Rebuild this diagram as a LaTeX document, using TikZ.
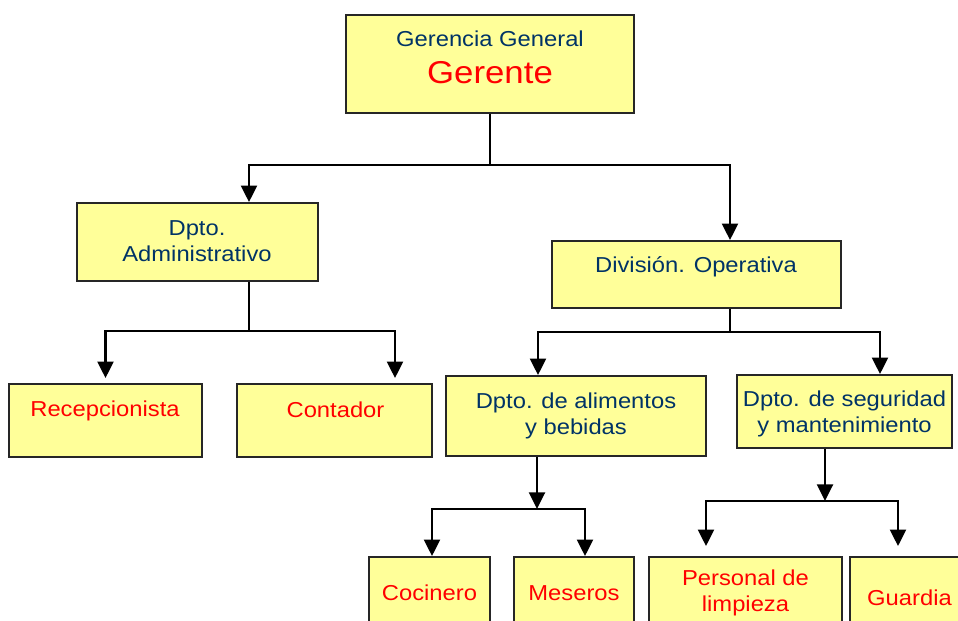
\documentclass[tikz,border=0pt]{standalone}
\usepackage{fontspec}
\setmainfont{Liberation Sans}[FakeStretch=1.1]
\usetikzlibrary{arrows.meta}

\definecolor{boxfill}{HTML}{FFFF99}
\definecolor{navytext}{HTML}{003366}
\definecolor{redtext}{HTML}{FF0000}

\tikzset{
  box/.style={draw=black!85, fill=boxfill, line width=1.1pt, inner sep=0pt},
  dept/.style={text=navytext, align=center, font=\fontsize{12.3}{15}\selectfont, inner sep=0pt, anchor=base},
  post/.style={text=redtext, align=center, font=\fontsize{12.3}{15}\selectfont, inner sep=0pt, anchor=base},
  link/.style={line width=1.15pt, -{Triangle[length=0.33cm,width=0.32cm]}},
}

\begin{document}
\begin{tikzpicture}[x=0.02cm, y=-0.02cm]
\useasboundingbox (0,0) rectangle (958,621);
\clip (0,0) rectangle (958,621);

% boxes
\node[box, minimum width=5.76cm, minimum height=1.96cm] (ger) at (490,64) {};
\node[box, minimum width=4.82cm, minimum height=1.56cm] (adm) at (197.5,242) {};
\node[box, minimum width=5.78cm, minimum height=1.34cm] (div) at (696.5,274.5) {};
\node[box, minimum width=3.86cm, minimum height=1.46cm] (rec) at (105.5,420.5) {};
\node[box, minimum width=3.9cm, minimum height=1.46cm] (con) at (334.5,420.5) {};
\node[box, minimum width=5.2cm, minimum height=1.6cm] (ali) at (576,416) {};
\node[box, minimum width=4.3cm, minimum height=1.46cm] (seg) at (844.5,411.5) {};
\node[box, minimum width=2.42cm, minimum height=2.06cm] (coc) at (429.5,608.5) {};
\node[box, minimum width=2.4cm, minimum height=2.06cm] (mes) at (574,608.5) {};
\node[box, minimum width=3.86cm, minimum height=2.06cm] (per) at (745.5,608.5) {};
\node[box, minimum width=2.38cm, minimum height=2.06cm] (gua) at (909.5,608.5) {};

% texts (base = last line)
\node[dept] (ger-t) at (490,47) {Gerencia General};
\node[post, font=\fontsize{18}{22}\selectfont] (ger-n) at (490,84) {Gerente};
\node[dept] (adm-t) at (197,261.7) {Dpto.\\Administrativo};
\node[dept] (div-t) at (696,273) {División. Operativa};
\node[post] (rec-t) at (105,416.7) {Recepcionista};
\node[post] (con-t) at (335.5,417.7) {Contador};
\node[dept] (ali-t) at (576,435) {Dpto. de alimentos\\y bebidas};
\node[dept] (seg-t) at (844.5,433) {Dpto. de seguridad\\y mantenimiento};
\node[post] (coc-t) at (429.5,600.7) {Cocinero};
\node[post] (mes-t) at (574,600.7) {Meseros};
\node[post] (per-t) at (745.5,611.7) {Personal de\\limpieza};
\node[post] (gua-t) at (909.5,605.7) {Guardia};

% connectors
\draw[link] (ger.south) -- ++(0,51) coordinate (gbar) -| (adm.north -| 249,0);
\draw[link] (gbar) -| (div.north -| 730,0);

\draw[link, shorten >=0.1cm] (adm.south -| 249,0) -- ++(0,49) coordinate (abar) -| (rec.north);
\draw[link, shorten >=0.1cm] (abar) -| (con.north -| 395,0);

\draw[link] (div.south -| 730,0) -- ++(0,23) coordinate (dbar) -| (ali.north -| 538,0);
\draw[link] (dbar) -| (seg.north -| 880,0);

\draw[link] (ali.south -| 537,0) -- ++(0,52) coordinate (lbar);
\draw[link] (lbar) -| (coc.north -| 432,0);
\draw[link] (lbar) -| (mes.north -| 585,0);

\draw[link] (seg.south -| 825,0) -- ++(0,52) coordinate (sbar);
\draw[link, shorten >=0.2cm] (sbar) -| (per.north -| 706,0);
\draw[link, shorten >=0.2cm] (sbar) -| (gua.north -| 898,0);
\end{tikzpicture}
\end{document}
